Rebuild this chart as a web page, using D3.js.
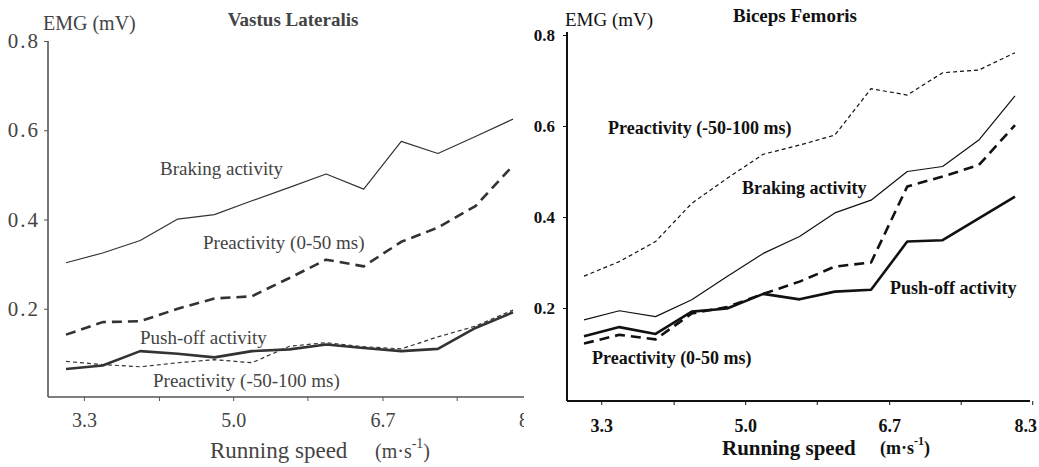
<!DOCTYPE html>
<html>
<head>
<meta charset="utf-8">
<script src="https://cdn.jsdelivr.net/npm/d3@7"></script>
<style>
  body { margin: 0; background: #fff; }
  svg { display: block; font-family: "Liberation Serif", "Times New Roman", serif; }
</style>
</head>
<body>
<div class="chart"></div>
<script>
// running speeds (m/s) of the 13 measured steps, same for both muscles
const speeds = [3.13, 3.54, 3.96, 4.38, 4.79, 5.21, 5.63, 6.04, 6.46, 6.88, 7.29, 7.71, 8.13];

// tick values / labels
const yTicks = [0.2, 0.4, 0.6, 0.8];
const xTicks = [3.33, 4.17, 5.0, 5.83, 6.67, 7.5, 8.33];
const vlXLabels = ["3.3", "", "5.0", "", "6.7", "", "8.3"];
const bfXLabels = ["3.3", "", "5.0", "", "6.7", "", "8.3"];

// Vastus Lateralis (mV)
const vlBraking = [0.303, 0.325, 0.353, 0.401, 0.411, 0.442, 0.472, 0.502, 0.468, 0.575, 0.548, 0.586, 0.625];
const vlPre050 = [0.142, 0.170, 0.172, 0.200, 0.223, 0.228, 0.269, 0.310, 0.295, 0.350, 0.382, 0.430, 0.521];
const vlPushOff = [0.065, 0.073, 0.105, 0.099, 0.091, 0.105, 0.109, 0.120, 0.112, 0.105, 0.110, 0.157, 0.192];
const vlPre50100 = [0.082, 0.075, 0.070, 0.079, 0.086, 0.079, 0.116, 0.124, 0.115, 0.110, 0.137, 0.161, 0.197];

// Biceps Femoris (mV)
const bfPre50100 = [0.270, 0.302, 0.346, 0.430, 0.485, 0.538, 0.558, 0.580, 0.682, 0.668, 0.717, 0.723, 0.761];
const bfBraking = [0.174, 0.194, 0.181, 0.218, 0.269, 0.320, 0.357, 0.409, 0.437, 0.500, 0.511, 0.569, 0.666];
const bfPre050 = [0.122, 0.141, 0.131, 0.188, 0.202, 0.231, 0.258, 0.291, 0.300, 0.467, 0.489, 0.514, 0.602];
const bfPushOff = [0.138, 0.158, 0.143, 0.192, 0.199, 0.231, 0.219, 0.236, 0.240, 0.346, 0.349, 0.397, 0.445];

const W = 1039, H = 467;
const svg = d3.select(".chart").append("svg")
    .attr("width", W)
    .attr("height", H)
    .attr("viewBox", [0, 0, W, H]);

// line styles
const styles = {
    braking: { w: 1.2, dash: null },
    pre050: { w: 2.6, dash: "10,6" },
    push: { w: 2.6, dash: null },
    pre50100: { w: 1.2, dash: "4,3" }
};

const draw_panel = (p) => {
    const g = svg.append("g");
    if (p.clipW) {
        svg.append("clipPath").attr("id", p.id + "-clip")
            .append("rect").attr("x", 0).attr("y", 0).attr("width", p.clipW).attr("height", H);
        g.attr("clip-path", `url(#${p.id}-clip)`);
    }

    const x = d3.scaleLinear().domain([speeds[0], speeds[speeds.length - 1]]).range(p.xRange);
    const y = d3.scaleLinear().domain([0, 0.8]).range(p.yRange);

    // axis lines
    g.append("line")
        .attr("x1", p.axisX).attr("x2", p.axisX)
        .attr("y1", p.yTop).attr("y2", p.axisY)
        .attr("stroke", p.axisColor).attr("stroke-width", p.axisW);
    g.append("line")
        .attr("x1", p.axisX).attr("x2", p.xEnd)
        .attr("y1", p.axisY).attr("y2", p.axisY)
        .attr("stroke", p.axisColor).attr("stroke-width", p.axisW);

    // y axis
    const ya = g.append("g")
        .attr("transform", `translate(${p.axisX},0)`)
        .call(d3.axisLeft(y).tickValues(yTicks).tickSize(4).tickPadding(p.yPad)
            .tickFormat(d3.format(".1f")));
    ya.select(".domain").remove();
    ya.selectAll(".tick line").attr("stroke", p.axisColor);
    ya.selectAll(".tick text")
        .attr("font-family", "Liberation Serif")
        .attr("font-size", p.yFont)
        .attr("font-weight", p.weight)
        .attr("letter-spacing", p.ySpacing)
        .attr("fill", p.textColor);

    // x axis
    const xa = g.append("g")
        .attr("transform", `translate(0,${p.axisY})`)
        .call(d3.axisBottom(x).tickValues(xTicks).tickSize(4).tickPadding(p.xPad)
            .tickFormat((d, i) => p.xLabels[i]));
    xa.select(".domain").remove();
    xa.selectAll(".tick line").attr("stroke", p.axisColor);
    xa.selectAll(".tick text")
        .attr("font-family", "Liberation Serif")
        .attr("font-size", p.xFont)
        .attr("font-weight", p.weight)
        .attr("fill", p.textColor)
        .attr("dx", (d, i) => i === xTicks.length - 1 ? p.lastDx : 0);

    // series
    const line = d3.line().x((d, i) => x(speeds[i])).y(d => y(d));
    p.series.forEach(s => {
        const st = styles[s.style];
        g.append("path")
            .datum(s.values)
            .attr("fill", "none")
            .attr("stroke", p.lineColor)
            .attr("stroke-width", st.w)
            .attr("stroke-dasharray", st.dash)
            .attr("stroke-linejoin", "round")
            .attr("d", line);
    });

    // texts
    const txt = (t, tx, ty, size, weight, anchor) => g.append("text")
        .attr("x", tx).attr("y", ty)
        .attr("font-size", size)
        .attr("font-weight", weight)
        .attr("fill", p.textColor)
        .attr("text-anchor", anchor || "start")
        .attr("dominant-baseline", "middle")
        .text(t);

    p.labels.forEach(l => txt(l.text, l.x, l.y, p.labelFont, p.weight));
    txt(p.title, p.titleX, p.titleY, p.titleFont, "bold", "middle");
    txt("EMG (mV)", p.emgX, p.emgY, p.emgFont, "normal");

    txt("Running speed", p.rsX, p.rsY, p.rsFont, p.weight);
    const u = g.append("text")
        .attr("x", p.unitX).attr("y", p.rsY)
        .attr("font-size", p.rsFont - 3)
        .attr("font-weight", p.weight)
        .attr("fill", p.textColor)
        .attr("dominant-baseline", "middle");
    u.append("tspan").text("(m\u00b7s");
    u.append("tspan").attr("dy", -8).attr("font-size", p.rsFont - 9).text("-1");
    u.append("tspan").attr("dy", 8).text(")");
};

draw_panel({
    id: "vl",
    clipW: 524,
    xRange: [66, 513],
    yRange: [398, 41],
    axisX: 48, axisY: 397, xEnd: 524, yTop: 41,
    axisColor: "#555", axisW: 1.6,
    lineColor: "#333",
    textColor: "#444",
    weight: "normal",
    yFont: 21, ySpacing: 2, yPad: 4,
    xFont: 20, xPad: 12, lastDx: 0,
    xLabels: vlXLabels,
    labelFont: 19,
    title: "Vastus Lateralis", titleX: 293, titleY: 22, titleFont: 19,
    emgX: 43, emgY: 25, emgFont: 20,
    rsX: 210, rsY: 453, rsFont: 23, unitX: 375,
    series: [
        { values: vlBraking, style: "braking" },
        { values: vlPre050, style: "pre050" },
        { values: vlPushOff, style: "push" },
        { values: vlPre50100, style: "pre50100" }
    ],
    labels: [
        { text: "Braking activity", x: 160, y: 171 },
        { text: "Preactivity (0-50 ms)", x: 203, y: 245 },
        { text: "Push-off activity", x: 140, y: 340 },
        { text: "Preactivity (-50-100 ms)", x: 153, y: 383 }
    ]
});

draw_panel({
    id: "bf",
    clipW: null,
    xRange: [584, 1015],
    yRange: [399, 35],
    axisX: 567, axisY: 401, xEnd: 1030, yTop: 32,
    axisColor: "#111", axisW: 2,
    lineColor: "#111",
    textColor: "#111",
    weight: "bold",
    yFont: 17, ySpacing: 0, yPad: 8,
    xFont: 18, xPad: 14, lastDx: -7,
    xLabels: bfXLabels,
    labelFont: 18,
    title: "Biceps Femoris", titleX: 795, titleY: 18, titleFont: 19,
    emgX: 565, emgY: 22, emgFont: 19,
    rsX: 722, rsY: 450, rsFont: 21, unitX: 880,
    series: [
        { values: bfPre50100, style: "pre50100" },
        { values: bfBraking, style: "braking" },
        { values: bfPre050, style: "pre050" },
        { values: bfPushOff, style: "push" }
    ],
    labels: [
        { text: "Preactivity (-50-100 ms)", x: 608, y: 130 },
        { text: "Braking activity", x: 742, y: 190 },
        { text: "Push-off activity", x: 890, y: 290 },
        { text: "Preactivity (0-50 ms)", x: 592, y: 360 }
    ]
});
</script>
</body>
</html>
